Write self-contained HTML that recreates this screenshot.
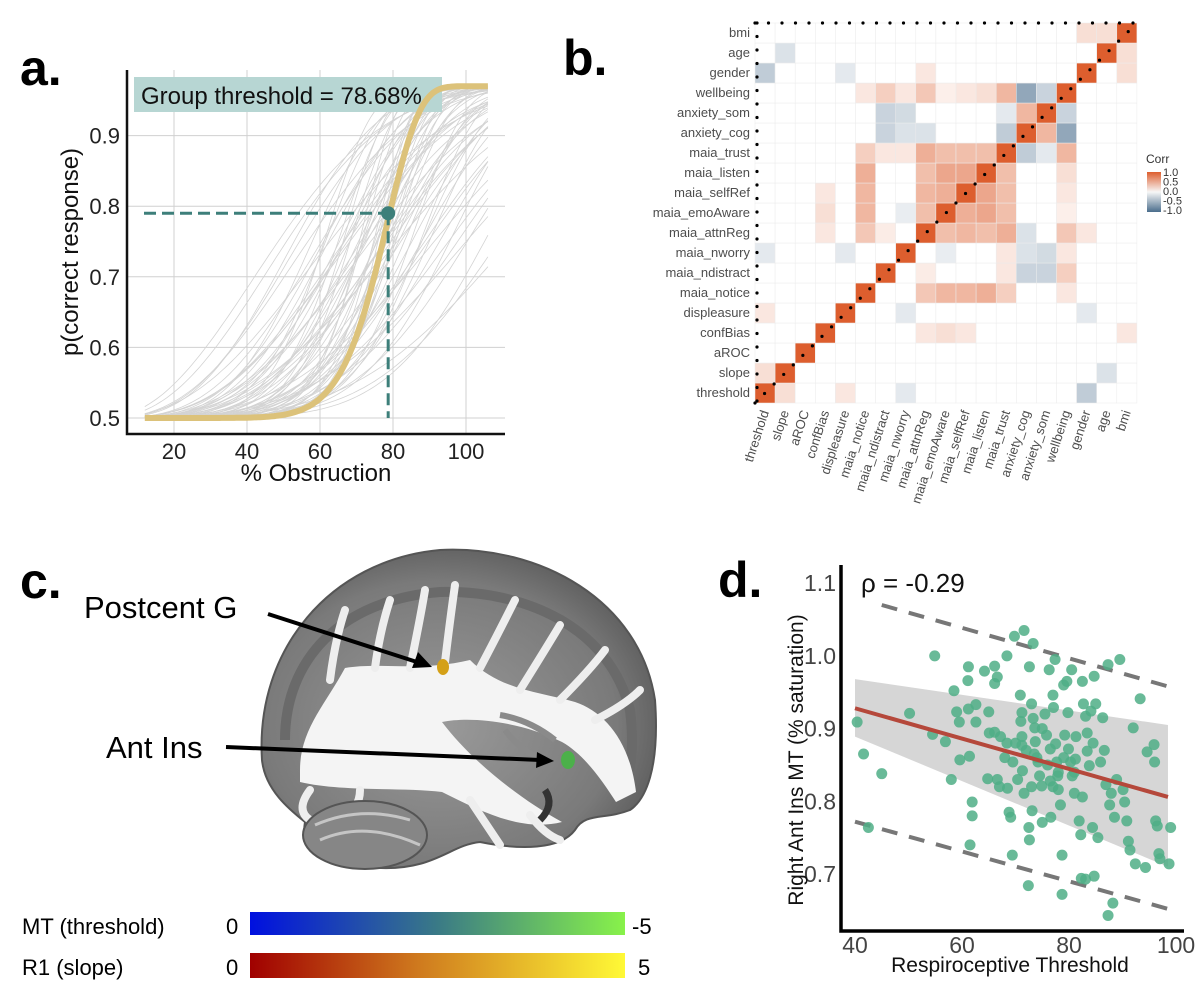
<!DOCTYPE html>
<html><head><meta charset="utf-8"><style>
body{margin:0;background:#fff;}
svg{display:block;font-family:"Liberation Sans",sans-serif;}
</style></head><body>
<svg id="fig" width="1200" height="996" viewBox="0 0 1200 996">
<defs>
<linearGradient id="mtGrad" x1="0" x2="1"><stop offset="0" stop-color="#0010e0"/><stop offset="0.5" stop-color="#3a7a86"/><stop offset="1" stop-color="#88f24a"/></linearGradient>
<linearGradient id="r1Grad" x1="0" x2="1"><stop offset="0" stop-color="#a00000"/><stop offset="0.45" stop-color="#cf7a1e"/><stop offset="1" stop-color="#fff936"/></linearGradient>
<linearGradient id="corrGrad" x1="0" y1="0" x2="0" y2="1"><stop offset="0" stop-color="#dd5e2e"/><stop offset="0.5" stop-color="#f7f7f7"/><stop offset="1" stop-color="#4a6d8c"/></linearGradient>
<radialGradient id="brainGrad" cx="0.45" cy="0.55" r="0.6"><stop offset="0" stop-color="#9a9a9a"/><stop offset="0.75" stop-color="#7a7a7a"/><stop offset="1" stop-color="#5a5a5a"/></radialGradient>
</defs>
<g id="panelA"></g>
<g id="panelB"></g>
<g id="panelC">
<text x="20" y="598" font-size="50" font-weight="bold">c.</text>
<path d="M262 760 C255 650 330 560 440 550 C540 545 640 600 655 700 C660 770 645 800 630 810 C605 820 585 812 575 830 C560 850 520 850 480 842 C450 845 435 870 380 868 C320 868 300 850 305 822 C290 810 265 790 262 760 Z" fill="url(#brainGrad)" stroke="#555" stroke-width="2"/>
<path d="M285 740 C285 660 340 600 440 592 C530 590 610 630 630 710 C635 750 630 780 620 795" fill="none" stroke="#6a6a6a" stroke-width="10"/>
<path d="M300 770 C300 730 325 705 345 668 C380 662 420 672 470 660 C500 690 540 692 575 702 C605 712 630 742 636 792 L616 802 C603 782 585 755 562 742 C522 722 472 716 442 722 C472 762 522 800 562 822 C522 832 482 812 442 792 C402 787 342 792 300 782 Z" fill="#f4f4f4"/>
<path d="M330 680 Q335 640 345 610 M375 668 Q380 630 390 600 M410 668 Q420 620 425 590 M445 662 Q450 620 455 585 M480 668 Q500 630 515 600 M520 690 Q545 650 560 625 M560 700 Q590 670 605 650 M595 720 Q625 705 640 690 M310 790 Q295 810 310 820 M360 790 Q360 810 340 818 M470 800 Q490 830 500 845 M530 815 Q545 835 560 840" stroke="#eeeeee" stroke-width="8" fill="none" stroke-linecap="round"/>
<path d="M500 715 Q530 720 555 740 M505 730 Q520 750 540 758" stroke="#8a8a8a" stroke-width="6" fill="none"/>
<path d="M545 790 Q555 805 540 820" stroke="#333" stroke-width="7" fill="none"/>
<ellipse cx="365" cy="835" rx="62" ry="34" fill="#868686" stroke="#555" stroke-width="2"/>
<path d="M320 840 Q365 820 420 845 M315 825 Q360 805 410 820" stroke="#c5c5c5" stroke-width="3" fill="none"/>
<ellipse cx="443" cy="667" rx="6" ry="8" fill="#d4a017"/>
<ellipse cx="568" cy="760" rx="7" ry="9" fill="#4cb04a"/>
<text x="84" y="618" font-size="31">Postcent G</text>
<line x1="268" y1="614" x2="420" y2="663" stroke="#000" stroke-width="4"/>
<polygon points="432,667 412,668 418,652" fill="#000"/>
<text x="106" y="758" font-size="31">Ant Ins</text>
<line x1="226" y1="747" x2="540" y2="760" stroke="#000" stroke-width="4"/>
<polygon points="554,761 536,768 537,752" fill="#000"/>
<text x="22" y="934" font-size="22">MT (threshold)</text>
<text x="226" y="934" font-size="22">0</text>
<rect x="250" y="912" width="375" height="23" fill="url(#mtGrad)"/>
<text x="632" y="934" font-size="22">-5</text>
<text x="22" y="975" font-size="22">R1 (slope)</text>
<text x="226" y="975" font-size="22">0</text>
<rect x="250" y="953" width="375" height="25" fill="url(#r1Grad)"/>
<text x="638" y="975" font-size="22">5</text>
</g>
<g id="panelD"></g>
</svg>
<script>
// ---------- Panel a data ----------
const aXTicks=[20,40,60,80,100];
const aYTicks=[0.5,0.6,0.7,0.8,0.9];
const groupLambda=79.4, groupK=10;
const groupThreshold=78.68, groupThresholdP=0.79;
const indivLambda=[58,62,65,66,68,70,71,72,73,74,75,75,76,77,78,78,79,80,80,81,82,83,84,85,86,87,88,90,92,95,98,102,106,110,115,120,70,74,79,84,89,96,64,69,77,83,91,100,60,72,55,63,67,71,76,81,86,93,99,108,73,78,82,88,94,104,57,66,75,85];
const indivK=[3,4,5,3.5,6,4,7,5,3,8,4.5,6,5,3.5,7,4,6,5,8,3,6,4,7,5,3.5,6,4,5,6,4,5,4,5,6,5,4,2.5,3,3.2,3.5,3,4,6,7,9,8,7,6,2.8,3.6,2.2,2.6,3.8,4.2,5.5,6.5,5.2,4.8,3.4,3.6,9,10,8.5,7.5,6.2,4.4,2.4,3.1,2.9,3.3];
// ---------- Panel b data ----------
const vars=["threshold","slope","aROC","confBias","displeasure","maia_notice","maia_ndistract","maia_nworry","maia_attnReg","maia_emoAware","maia_selfRef","maia_listen","maia_trust","anxiety_cog","anxiety_som","wellbeing","gender","age","bmi"];
const corrRow=[18,18,17,16,16,16,15,15,15,15,15,15,15,15,14,14,14,14,13,13,13,12,12,12,12,12,12,12,12,11,11,11,11,10,10,10,9,9,8,8,8,7,7,7,6,6,6,5,5,5,5,4,4,4,3,3,3,1,1,0,0,0,0];
const corrCol=[16,17,1,0,4,8,5,6,8,10,11,12,13,14,6,7,12,13,6,7,8,5,6,7,8,9,10,11,13,5,8,9,10,5,8,9,3,5,3,5,16,9,13,14,8,13,14,8,9,10,11,0,7,16,8,9,10,0,17,1,4,7,16];
const corrVal=[0.2,0.2,-0.15,-0.3,-0.15,0.15,0.15,0.2,0.35,0.2,0.25,0.45,-0.55,-0.3,-0.25,-0.25,-0.15,0.45,-0.25,-0.15,-0.2,0.3,0.15,0.2,0.4,0.35,0.35,0.4,-0.35,0.5,0.35,0.5,0.6,0.4,0.4,0.55,0.2,0.4,0.15,0.35,0.15,-0.12,-0.2,-0.25,0.12,-0.3,-0.3,0.35,0.45,0.45,0.5,0.15,-0.15,-0.15,0.15,0.2,0.15,0.2,-0.2,0.2,0.15,-0.15,-0.35];
const corrExtra=[[13,15,-0.6],[14,15,-0.3],[12,15,0.45],[11,15,0.2],[10,15,0.15],[9,15,0.1],[8,15,0.35],[7,15,0.15],[6,15,0.3],[5,15,0.15],[11,12,0.4],[10,12,0.4],[9,12,0.4],[8,12,0.5],[7,12,0.15],[6,12,0.15],[5,12,0.3],[10,11,0.55],[9,11,0.55],[8,11,0.4],[9,10,0.5],[8,10,0.45],[8,9,0.4]];
const corrOneWay=[[3,18,0.15]];
const corrTicks=[1.0,0.5,0.0,-0.5,-1.0];
// ---------- Panel d data ----------
const dXTicks=[40,60,80,100];
const dYTicks=[0.7,0.8,0.9,1.0,1.1];
const ptX=[40.4,41.6,42.5,45.0,50.2,54.5,54.9,56.9,58.0,58.5,59.0,59.5,59.6,61.2,61.1,61.2,61.4,61.9,61.9,61.5,62.6,62.6,64.2,64.8,65.0,65.1,66.1,66.1,66.6,66.1,66.6,67.2,68.4,68.4,68.5,68.8,69.1,69.4,69.8,71.6,69.5,70.4,70.9,71.2,71.0,71.2,71.2,71.3,71.6,72.4,72.5,72.6,72.6,73.0,73.3,73.6,73.7,73.5,73.3,73.1,74.2,74.5,74.9,75.0,75.5,75.8,76.3,76.5,76.5,76.6,77.0,77.1,77.4,77.5,77.7,77.9,78.0,78.4,78.7,78.7,79.0,79.2,79.6,79.8,79.9,80.3,80.5,80.6,81.0,81.2,81.3,81.9,82.2,82.5,82.5,82.7,83.1,83.4,83.4,83.8,84.1,84.4,84.5,84.7,85.0,85.4,85.9,86.3,86.6,86.9,87.3,87.6,87.9,88.5,88.9,89.5,90.1,90.4,90.8,91.1,91.4,92.0,92.4,93.3,94.3,94.6,95.9,96.0,96.2,96.5,96.8,97.0,99.0,98.7,83.1,84.7,87.3,88.2,82.3,72,74,76,78,70,75,77,73,79,81,68,67];
const ptY=[0.909,0.865,0.764,0.838,0.921,0.892,1.000,0.882,0.830,0.952,0.923,0.909,0.857,0.985,0.966,0.927,0.862,0.799,0.780,0.740,0.933,0.909,0.979,0.831,0.923,0.894,0.986,0.962,0.971,0.895,0.830,0.889,1.000,0.880,0.818,0.785,0.778,0.726,1.027,1.035,0.854,0.830,0.946,0.922,0.910,0.889,0.877,0.842,0.811,0.684,0.764,0.747,0.985,0.934,0.914,0.901,0.882,0.865,1.017,0.787,0.854,0.835,0.821,0.771,0.920,0.891,0.981,0.872,0.828,0.778,0.946,0.929,0.995,0.879,0.854,0.835,0.816,0.795,0.726,0.672,0.960,0.891,0.965,0.922,0.872,0.854,0.981,0.835,0.811,0.858,0.889,0.773,0.754,0.965,0.806,0.934,0.917,0.894,0.869,0.849,0.924,0.764,0.880,0.972,0.934,0.750,0.854,0.915,0.870,0.823,0.988,0.795,0.811,0.778,0.830,0.995,0.816,0.799,0.773,0.745,0.733,0.901,0.714,0.941,0.709,0.868,0.878,0.854,0.773,0.766,0.728,0.721,0.764,0.714,0.693,0.697,0.643,0.660,0.694,0.87,0.86,0.85,0.84,0.88,0.90,0.82,0.82,0.86,0.84,0.86,0.82];
const fitX=[40,98.5], fitY=[0.928,0.806];
const ciLow=[0.889,0.710], ciHigh=[0.968,0.905];
const piUpX=[45,98.5], piUpY=[1.07,0.958];
const piLoX=[40,98.5], piLoY=[0.772,0.652];

const NS="http://www.w3.org/2000/svg";
function mk(parent,tag,attrs,text){const e=document.createElementNS(NS,tag);for(const k in attrs)e.setAttribute(k,attrs[k]);if(text!==undefined)e.textContent=text;parent.appendChild(e);return e;}

// ---------- Panel A ----------
(function(){
const g=document.getElementById('panelA');
const X=v=>174+(v-20)*73/20, Y=v=>418-(v-0.5)*706;
let t=mk(g,'text',{x:20,y:85,'font-size':50,'font-weight':'bold'},'a.');


aXTicks.forEach(v=>{const l=mk(g,'line',{x1:X(v),x2:X(v),y1:70,y2:433,stroke:'#d0d0d0','stroke-width':1});


const tx=mk(g,'text',{x:X(v),y:459,'font-size':22,'text-anchor':'middle',fill:'#222'},v);

});
aYTicks.forEach(v=>{const l=mk(g,'line',{x1:128,x2:505,y1:Y(v),y2:Y(v),stroke:'#d0d0d0','stroke-width':1});


const tx=mk(g,'text',{x:120,y:Y(v)+8,'font-size':22,'text-anchor':'end',fill:'#222'},v.toFixed(1));

});
const weib=(x,l,k)=>0.5+0.47*(1-Math.exp(-Math.pow(x/l,k)));
indivLambda.forEach((lam,i)=>{let d='';for(let x=12;x<=106;x+=1){d+=(x===12?'M':'L')+X(x).toFixed(1)+' '+Y(weib(x,lam,indivK[i])).toFixed(1);}
const p=mk(g,'path',{d:d,fill:'none',stroke:'#d3d3d3','stroke-width':0.8});

});
const lb=mk(g,'rect',{x:134,y:77,width:308,height:35,fill:'#b7d6d3'});


let d='';for(let x=12;x<=106;x+=0.5){d+=(x===12?'M':'L')+X(x).toFixed(1)+' '+Y(weib(x,groupLambda,groupK)).toFixed(1);}
const gc=mk(g,'path',{d:d,fill:'none',stroke:'#dcc27a','stroke-width':6});


const lt=mk(g,'text',{x:141,y:104,'font-size':24,fill:'#111'},'Group threshold = '+groupThreshold.toFixed(2)+'%');


const h=mk(g,'line',{x1:144,x2:X(groupThreshold),y1:Y(groupThresholdP),y2:Y(groupThresholdP),stroke:'#3d7f7a','stroke-width':3,'stroke-dasharray':'12 6'});


const v=mk(g,'line',{x1:X(groupThreshold),x2:X(groupThreshold),y1:Y(groupThresholdP),y2:418,stroke:'#3d7f7a','stroke-width':3,'stroke-dasharray':'12 6'});


const c=mk(g,'circle',{cx:X(groupThreshold),cy:Y(groupThresholdP),r:7,fill:'#3d7f7a'});


const ax=mk(g,'path',{d:'M127 70 V434 H505',fill:'none',stroke:'#111','stroke-width':2.5});


const xt=mk(g,'text',{x:316,y:481,'font-size':24,'text-anchor':'middle',fill:'#111'},'% Obstruction');


const yt=mk(g,'text',{x:0,y:0,'font-size':24,'text-anchor':'middle',fill:'#111',transform:'translate(78,252) rotate(-90)'},'p(correct response)');


})();

// ---------- Panel B ----------
(function(){
const g=document.getElementById('panelB');
const n=vars.length,x0=755,y0=23,cw=20.1,ch=20;
const X=i=>x0+i*cw, Y=i=>y0+(n-1-i)*ch;
let t=mk(g,'text',{x:563,y:75,'font-size':50,'font-weight':'bold'},'b.');


const M=[];for(let i=0;i<n;i++){M.push(new Array(n).fill(0));M[i][i]=1;}
corrRow.forEach((r,k)=>{M[r][corrCol[k]]=corrVal[k];M[corrCol[k]][r]=corrVal[k];});
corrExtra.forEach(e=>{M[e[0]][e[1]]=e[2];M[e[1]][e[0]]=e[2];});
corrOneWay.forEach(e=>{M[e[0]][e[1]]=e[2];});
const mix=(a,b,t)=>Math.round(a+(b-a)*t);
const col=v=>{const t=Math.min(1,Math.abs(v));const c=v>=0?[221,94,46]:[74,109,140];return `rgb(${mix(255,c[0],t)},${mix(255,c[1],t)},${mix(255,c[2],t)})`;};
for(let i=0;i<n;i++)for(let j=0;j<n;j++){
const r=mk(g,'rect',{x:X(j),y:Y(i),width:cw,height:ch,fill:col(M[i][j]),stroke:'#ececec','stroke-width':0.5});

}
vars.forEach((v,i)=>{
const yl=mk(g,'text',{x:750,y:Y(i)+14,'font-size':13,'text-anchor':'end',fill:'#4d4d4d'},v);


const cx=X(i)+cw/2+4;
const xl=mk(g,'text',{x:0,y:0,'font-size':13,'text-anchor':'end',fill:'#4d4d4d',transform:`translate(${cx},412) rotate(-72)`},v);

});
const dots=mk(g,'path',{d:`M${x0} ${y0} H${x0+n*cw} M${x0+2} ${y0} V${y0+n*ch} M${x0} ${y0+n*ch} L${x0+n*cw} ${y0}`,fill:'none',stroke:'#000','stroke-width':3.2,'stroke-linecap':'round','stroke-dasharray':'0 13.5'});


const lt=mk(g,'text',{x:1146,y:163,'font-size':12,fill:'#333'},'Corr');


const lr=mk(g,'rect',{x:1147,y:172,width:14,height:40,fill:'url(#corrGrad)'});


corrTicks.forEach(v=>{const tx=mk(g,'text',{x:1163,y:176+(1-v)/2*38,'font-size':11,fill:'#333'},v.toFixed(1));

});
})();

// ---------- Panel D ----------
(function(){
const g=document.getElementById('panelD');
const X=v=>855+(v-40)*5.35, Y=v=>874-(v-0.7)*727;
let t=mk(g,'text',{x:718,y:597,'font-size':50,'font-weight':'bold'},'d.');


const rb=mk(g,'polygon',{points:`${X(fitX[0])},${Y(ciHigh[0])} ${X(fitX[1])},${Y(ciHigh[1])} ${X(fitX[1])},${Y(ciLow[1])} ${X(fitX[0])},${Y(ciLow[0])}`,fill:'#d6d6d6'});


const pu=mk(g,'line',{x1:X(piUpX[0]),y1:Y(piUpY[0]),x2:X(piUpX[1]),y2:Y(piUpY[1]),stroke:'#777','stroke-width':4,'stroke-dasharray':'16 12'});


const pl=mk(g,'line',{x1:X(piLoX[0]),y1:Y(piLoY[0]),x2:X(piLoX[1]),y2:Y(piLoY[1]),stroke:'#777','stroke-width':4,'stroke-dasharray':'16 12'});


ptX.forEach((x,i)=>{const c=mk(g,'circle',{cx:X(x),cy:Y(ptY[i]),r:5.5,fill:'#4fae86','fill-opacity':0.85});

});
const fl=mk(g,'line',{x1:X(fitX[0]),y1:Y(fitY[0]),x2:X(fitX[1]),y2:Y(fitY[1]),stroke:'#b5483b','stroke-width':4});


const ax=mk(g,'path',{d:'M841 565 V931 H1184',fill:'none',stroke:'#000','stroke-width':3.5});


dXTicks.forEach(v=>{const tx=mk(g,'text',{x:X(v),y:953,'font-size':23,'text-anchor':'middle',fill:'#444'},v);

});
dYTicks.forEach(v=>{const tx=mk(g,'text',{x:836,y:Y(v)+8,'font-size':23,'text-anchor':'end',fill:'#444'},v.toFixed(1));

});
const xt=mk(g,'text',{x:1010,y:972,'font-size':21,'text-anchor':'middle',fill:'#111'},'Respiroceptive Threshold');


const yt=mk(g,'text',{x:0,y:0,'font-size':21,'text-anchor':'middle',fill:'#111',transform:'translate(803,760) rotate(-90)'},'Right Ant Ins MT (% saturation)');


const rho=mk(g,'text',{x:861,y:592,'font-size':26,fill:'#111'},'ρ = -0.29');


})();
</script>
</body></html>
